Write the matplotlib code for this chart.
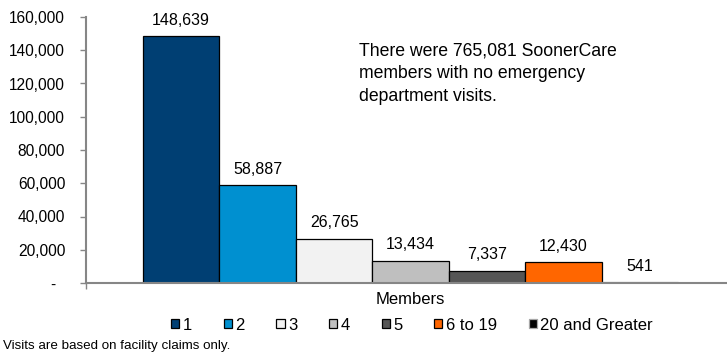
import matplotlib.pyplot as plt
from matplotlib.ticker import FuncFormatter

plt.rcParams['font.family'] = ['Liberation Sans', 'DejaVu Sans']

# Emergency department visit counts per member
groups = ['1', '2', '3', '4', '5', '6 to 19', '20 and Greater']
members = [148639, 58887, 26765, 13434, 7337, 12430, 541]
colors = ['#003F73', '#0090D0', '#F2F2F2', '#BFBFBF', '#555555', '#FF6600', '#000000']
edges = ['black'] * 6 + ['#A6A6A6']

fig = plt.figure(figsize=(7.27, 3.56), dpi=100)
ax = fig.add_axes([86 / 727, 1 - 283 / 356, 641 / 727, 266 / 356])

for i, (g, v) in enumerate(zip(groups, members)):
    b = ax.bar(i, v, width=1.0, color=colors[i], edgecolor=edges[i],
               linewidth=0.9, label=g)
    ax.bar_label(b, labels=[f'{v:,}'], padding=6, fontsize=11.5)

ax.set_xlim(-1.245, 7.14)
ax.set_ylim(0, 160000)
ax.set_yticks(range(0, 160001, 20000))
ax.yaxis.set_major_formatter(
    FuncFormatter(lambda y, pos: '-  ' if y == 0 else f'{int(y):,}'))
ax.tick_params(axis='y', labelsize=11.2, length=4, width=1, color='#868686', pad=11)
ax.set_xticks([-1.245])
ax.set_xticklabels([''])
ax.tick_params(axis='x', length=4, width=1, color='#868686')

for s in ['top', 'right']:
    ax.spines[s].set_visible(False)
for s in ['left', 'bottom']:
    ax.spines[s].set_color('#868686')
    ax.spines[s].set_linewidth(1.5)

# axis title placed under the bars
fig.text(410 / 727, 1 - 299 / 356, 'Members', fontsize=12, ha='center', va='center')

fig.text(359 / 727, 1 - 42 / 356,
         'There were 765,081 SoonerCare\nmembers with no emergency\ndepartment visits.',
         fontsize=12.7, va='top', ha='left', linespacing=1.45)

fig.legend(loc='center', bbox_to_anchor=(412 / 727, 1 - 325 / 356), ncol=7,
           frameon=False, fontsize=12, handlelength=0.5, handleheight=0.5,
           handletextpad=0.2, columnspacing=1.9)

fig.text(3 / 727, 1 - 346 / 356, 'Visits are based on facility claims only.',
         fontsize=9.6, va='center', ha='left',
         family=['Liberation Sans Narrow', 'Liberation Sans'])

fig.savefig('out.png', dpi=100)
